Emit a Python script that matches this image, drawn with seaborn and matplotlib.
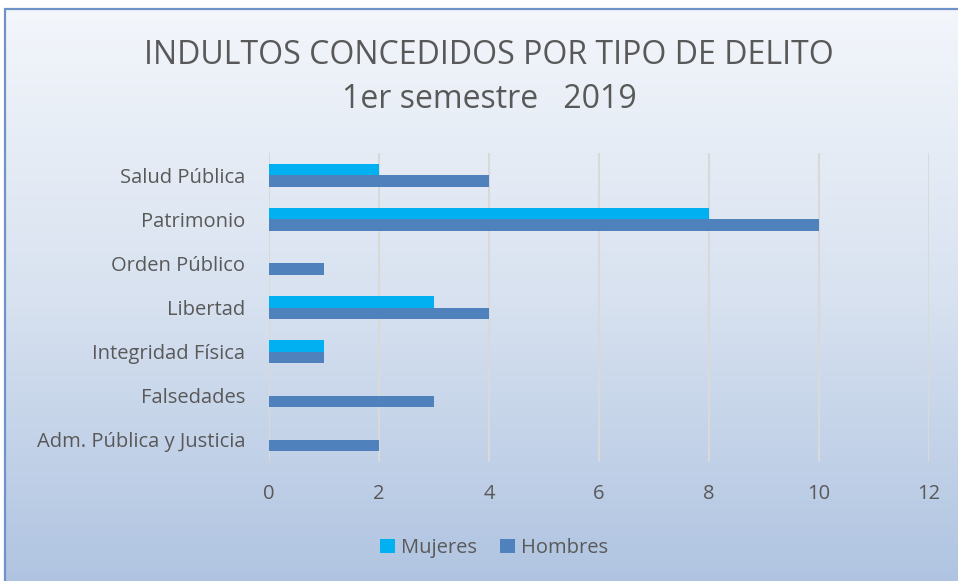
import numpy as np
import pandas as pd
import matplotlib.pyplot as plt
import seaborn as sns
from matplotlib.colors import LinearSegmentedColormap
from matplotlib.patches import Rectangle

# datos
delitos = ['Salud Pública', 'Patrimonio', 'Orden Público', 'Libertad',
           'Integridad Física', 'Falsedades', 'Adm. Pública y Justicia']
mujeres = [2, 8, 0, 3, 1, 0, 0]
hombres = [4, 10, 1, 4, 1, 3, 2]
series = ['Mujeres', 'Hombres']
colores = ['#00B0F0', '#4F81BD']
xticks = [0, 2, 4, 6, 8, 10, 12]

df = pd.DataFrame({
    'delito': delitos * 2,
    'valor': mujeres + hombres,
    'serie': [series[0]] * len(delitos) + [series[1]] * len(delitos),
})

sns.set_style('white')
plt.rcParams['font.family'] = ['Open Sans', 'DejaVu Sans']
gris = '#595959'

fig = plt.figure(figsize=(9.58, 5.81), dpi=100)
fig.patch.set_facecolor('white')

# fondo degradado del area del grafico
bg = fig.add_axes([5/958, 0, 1 - 5/958, 1 - 9/581], zorder=-10)
grad = np.linspace(0, 1, 256).reshape(-1, 1)
cmap = LinearSegmentedColormap.from_list('fondo', ['#F3F6FB', '#D8E2F0', '#B0C4E1'])
bg.imshow(grad, aspect='auto', cmap=cmap, extent=[0, 1, 0, 1])
bg.set_axis_off()
fig.patches.append(Rectangle((5/958, -0.01), 1.0, 1 - 9/581 + 0.01,
                             transform=fig.transFigure, fill=False,
                             edgecolor='#6F93C8', linewidth=1.6))

ax = fig.add_axes([269/958, 1 - 462/581, 660/958, 309/581])
ax.set_facecolor('none')
sns.barplot(data=df, y='delito', x='valor', hue='serie', order=delitos,
            hue_order=series, palette=colores, orient='h', width=0.52,
            gap=0, saturation=1, linewidth=0, edgecolor='none', ax=ax, zorder=3)

ax.set_xlim(0, 12)
ax.set_xticks(xticks)
ax.grid(axis='x', color='#D9D9D9', linewidth=1.5, zorder=0)
for s in ax.spines.values():
    s.set_visible(False)
ax.tick_params(axis='both', length=0, colors=gris, labelsize=14.5)
ax.tick_params(axis='x', pad=16)
ax.tick_params(axis='y', pad=17)
ax.set_xlabel('')
ax.set_ylabel('')

ax.legend_.remove()
h, l = ax.get_legend_handles_labels()
fig.legend(h, l, loc='center', bbox_to_anchor=(494/958, 1 - 548/581), ncol=2,
           frameon=False, fontsize=14.5, labelcolor=gris, handlelength=0.75,
           handleheight=0.75, handletextpad=0.3, columnspacing=1.1)

fig.text(489/958, 1 - 55/581, 'INDULTOS CONCEDIDOS POR TIPO DE DELITO',
         ha='center', va='center', fontsize=23, color=gris)
fig.text(489/958, 1 - 100/581, '1er semestre   2019',
         ha='center', va='center', fontsize=23, color=gris)

fig.savefig('out.png', dpi=100)
